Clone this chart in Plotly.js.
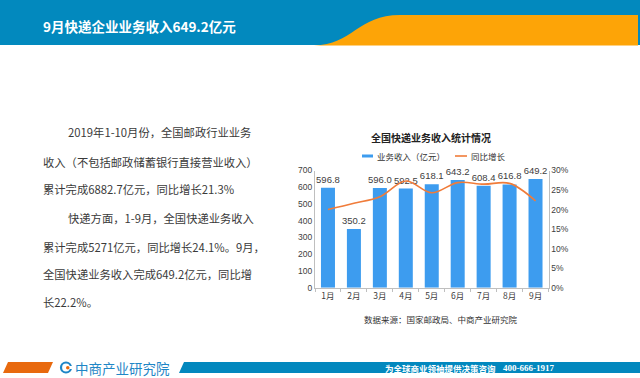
<!DOCTYPE html>
<html>
<head>
<meta charset="utf-8">
<script src="https://cdn.plot.ly/plotly-3.0.1.min.js"></script>
<style>html,body{margin:0;padding:0;background:#fff;}#chart{width:640px;height:378px;}</style>
</head>
<body>
<div id="chart"></div>
<script>
// ---- data ----
const months = ["1月","2月","3月","4月","5月","6月","7月","8月","9月"];
const revenue = [596.8, 350.2, 596.0, 592.5, 618.1, 643.2, 608.4, 616.8, 649.2];
const growth = [20.0, 21.6, 23.3, 27.3, 24.3, 26.9, 26.5, 26.7, 22.2];
const revenueLabels = ["596.8","350.2","596.0","592.5","618.1","643.2","608.4","616.8","649.2"];
const seriesNames = ["业务收入（亿元）", "同比增长"];
const chartTitle = "全国快递业务收入统计情况";
const pageTitle = "9月快递企业业务收入649.2亿元";
const sourceText = "数据来源：国家邮政局、中商产业研究院";
const bodyLines = [
  "2019年1-10月份，全国邮政行业业务",
  "收入（不包括邮政储蓄银行直接营业收入）",
  "累计完成6882.7亿元，同比增长21.3%",
  "快递方面，1-9月，全国快递业务收入",
  "累计完成5271亿元，同比增长24.1%。9月，",
  "全国快递业务收入完成649.2亿元，同比增",
  "长22.2%。"
];
const bodyIndent = [true,false,false,true,false,false,false];
const footerSlogan = "为全球商业领袖提供决策咨询";
const footerPhone = "400-666-1917";
const brandName = "中商产业研究院";

// ---- layout helpers (pixel -> paper) ----
const W = 640, H = 378;
const px = x => x / W;
const py = y => 1 - y / H;
const P = (x, y) => px(x).toFixed(5) + "," + py(y).toFixed(5);

const CJK = "Noto Sans CJK SC, sans-serif";
const BLUE = "#3D9CEF", ORANGE = "#F07C3A";

const traces = [
  {
    type: "bar", x: months, y: revenue, name: seriesNames[0],
    marker: {color: BLUE},
    text: revenueLabels, textposition: "outside", cliponaxis: false, constraintext: "none",
    textfont: {family: "Liberation Sans, sans-serif", size: 9.5, color: "#404040"},
    hoverinfo: "x+y", showlegend: false
  },
  {
    type: "scatter", mode: "lines", x: months, y: growth, name: seriesNames[1],
    yaxis: "y2", line: {color: ORANGE, width: 1.6, shape: "spline", smoothing: 1}, showlegend: false
  }
];

const annotations = [];
function txt(text, x, y, opts) {
  annotations.push(Object.assign({
    text: text, xref: "paper", yref: "paper", x: px(x), y: py(y),
    xanchor: "left", yanchor: "middle", showarrow: false,
    font: {family: CJK, size: 11, color: "#404040"}
  }, opts || {}));
}
// header title
txt(pageTitle, 41, 26, {font: {family: CJK, size: 13.5, color: "#ffffff", weight: 700}});
// body text
const lineY = [132.5, 161.5, 189, 218, 246.5, 274, 302];
bodyLines.forEach((l, i) => txt(l, bodyIndent[i] ? 66 : 41, lineY[i], {font: {family: CJK, size: 11.3, color: "#3a3a3a"}}));
// chart title
txt(chartTitle, 431, 137, {xanchor: "center", font: {family: CJK, size: 10, color: "#222", weight: 700}});
// legend (drawn)
txt(seriesNames[0], 375, 156, {font: {family: CJK, size: 8.5, color: "#333"}});
txt(seriesNames[1], 469, 156, {font: {family: CJK, size: 8.5, color: "#333"}});
// source
txt(sourceText, 441, 319, {xanchor: "center", font: {family: CJK, size: 8.5, color: "#333"}});
// footer
txt(brandName, 73, 367.5, {font: {family: CJK, size: 13.5, color: "#1F86C6"}});
txt(footerSlogan, 440, 367.5, {xanchor: "center", font: {family: CJK, size: 8.5, color: "#ffffff", weight: 700}});
txt(footerPhone, 528, 367.5, {xanchor: "center", font: {family: "Liberation Serif, serif", size: 9, color: "#ffffff", weight: 700}});

const shapes = [
  // header blue band
  {type: "rect", xref: "paper", yref: "paper", x0: 0, x1: 1, y0: py(45), y1: 1, fillcolor: "#0289BE", line: {width: 0}, layer: "below"},
  // header orange swoosh
  {type: "path", xref: "paper", yref: "paper", layer: "below",
   path: "M" + P(314, 45.5) + " C" + P(352, 45) + " " + P(358, 15) + " " + P(400, 15) + " L" + P(638, 15) + " L" + P(638, 45.5) + " Z",
   fillcolor: "#FDA407", line: {width: 0}},
  // legend symbols
  {type: "rect", xref: "paper", yref: "paper", layer: "above",
   x0: px(362), x1: px(373), y0: py(157.5), y1: py(154.5), fillcolor: BLUE, line: {width: 0}},
  {type: "line", xref: "paper", yref: "paper", layer: "above",
   x0: px(455), x1: px(467), y0: py(156), y1: py(156), line: {color: ORANGE, width: 1.6}},
  // footer orange parallelogram
  {type: "path", xref: "paper", yref: "paper", layer: "below",
   path: "M" + P(3, 373) + " L" + P(8, 362) + " L" + P(53, 362) + " L" + P(48, 373) + " Z",
   fillcolor: "#E8690E", line: {width: 0}},
  // footer blue bar
  {type: "path", xref: "paper", yref: "paper", layer: "below",
   path: "M" + P(179, 373) + " L" + P(184, 362) + " L" + P(640, 362) + " L" + P(640, 373) + " Z",
   fillcolor: "#0288BE", line: {width: 0}},
  // logo icon
  {type: "circle", xref: "paper", yref: "paper", layer: "above",
   x0: px(61), x1: px(71), y0: py(372.5), y1: py(362.5), fillcolor: "rgba(0,0,0,0)", line: {color: "#1F86C6", width: 2.2}},
  {type: "rect", xref: "paper", yref: "paper", layer: "above",
   x0: px(66), x1: px(72), y0: py(369), y1: py(366), fillcolor: "#ffffff", line: {width: 0}},
  {type: "circle", xref: "paper", yref: "paper", layer: "above",
   x0: px(66), x1: px(69.5), y0: py(369.5), y1: py(366), fillcolor: "#E8690E", line: {width: 0}}
];

const layout = {
  width: W, height: H,
  margin: {l: 0, r: 0, t: 0, b: 0},
  paper_bgcolor: "#ffffff", plot_bgcolor: "rgba(0,0,0,0)",
  showlegend: false,
  bargap: 0.46,
  xaxis: {
    domain: [px(315), px(548.5)],
    type: "category", tickfont: {family: CJK, size: 8.5, color: "#404040"},
    showline: true, linecolor: "#BFBFBF", linewidth: 1,
    ticks: "outside", ticklen: 3, tickcolor: "#BFBFBF", tickson: "boundaries",
    showgrid: false, zeroline: false, fixedrange: true
  },
  yaxis: {
    domain: [1 - 287.7 / H, 1 - 170.5 / H],
    range: [0, 700], dtick: 100, tickfont: {family: "Liberation Sans, sans-serif", size: 8.5, color: "#404040"},
    showline: true, linecolor: "#BFBFBF", linewidth: 1, ticks: "", ticklen: 0,
    showgrid: false, zeroline: false, fixedrange: true
  },
  yaxis2: {
    overlaying: "y", side: "right", anchor: "x",
    range: [0, 30], dtick: 5, ticksuffix: "%",
    tickfont: {family: "Liberation Sans, sans-serif", size: 8.5, color: "#404040"},
    showline: true, linecolor: "#BFBFBF", linewidth: 1,
    showgrid: false, zeroline: false, fixedrange: true
  },
  shapes: shapes,
  annotations: annotations
};

Plotly.newPlot("chart", traces, layout, {displayModeBar: false, staticPlot: true});
</script>
</body>
</html>
